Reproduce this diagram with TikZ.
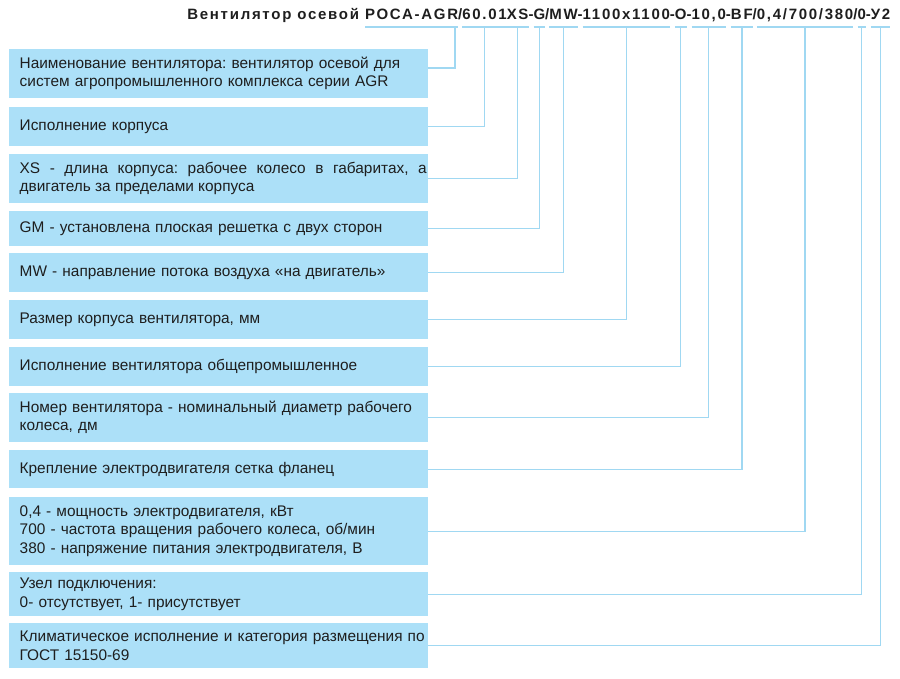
\documentclass[tikz,border=0pt]{standalone}
\usepackage{fontspec}
\setmainfont{Liberation Sans}
\newfontfamily\titlefont{Liberation Sans}[LetterSpace=11.5]
\definecolor{boxblue}{RGB}{172,224,248}
\definecolor{linkblue}{RGB}{160,216,242}
\definecolor{textgray}{RGB}{30,30,30}
\tikzset{
  descbox/.style={fill=boxblue, text=textgray, text width=416pt, inner xsep=1.5pt, inner ysep=0pt,
    align=left, anchor=north west, execute at begin node={\leftskip=9pt\frenchspacing},
    font=\fontsize{15.4}{18.2}\selectfont},
  codepart/.style={inner sep=0pt, outer sep=0pt, anchor=base west, text=textgray,
    font=\titlefont\bfseries\fontsize{15}{16}\selectfont},
  link/.style={draw=linkblue, line width=1.4pt},
}

\begin{document}
\begin{tikzpicture}[x=1pt, y=-1pt]
\useasboundingbox (0,0) rectangle (900,679);
%%% designation code %%%

      \node[codepart] (p1) at (365,20) {РОСА-AGR};
      \node[codepart, anchor=base east] (p0) at ([xshift=-6pt]p1.base west) {Вентилятор осевой};
      \node[codepart] (s1) at (p1.base east) {/};
      \node[codepart] (p2) at (s1.base east) {60.01};
      \node[codepart] (p3) at (p2.base east) {XS};
      \node[codepart] (s3) at (p3.base east) {-};
      \node[codepart] (p4) at (s3.base east) {G};
      \node[codepart] (s4) at (p4.base east) {/};
      \node[codepart] (p5) at (s4.base east) {MW};
      \node[codepart] (s5) at (p5.base east) {-};
      \node[codepart] (p6) at (s5.base east) {1100x1100};
      \node[codepart] (s6) at (p6.base east) {-};
      \node[codepart] (p7) at (s6.base east) {O};
      \node[codepart] (s7) at (p7.base east) {-};
      \node[codepart] (p8) at (s7.base east) {10,0};
      \node[codepart] (s8) at (p8.base east) {-};
      \node[codepart] (p9) at (s8.base east) {BF};
      \node[codepart] (s9) at (p9.base east) {/};
      \node[codepart] (p10) at (s9.base east) {0,4/700/380};
      \node[codepart] (s10) at (p10.base east) {/};
      \node[codepart] (p11) at (s10.base east) {0};
      \node[codepart] (s11) at (p11.base east) {-};
      \node[codepart] (p12) at (s11.base east) {У2};

%%% description boxes %%%

      \node[descbox, minimum height=49pt] (b1) at (9,49)
        {\mbox{Наименование вентилятора: вентилятор осевой для}\\систем агропромышленного комплекса серии AGR};
      \node[descbox, minimum height=39pt] (b2) at (9,107) {Исполнение корпуса};
      \node[descbox, minimum height=49pt, align=justify] (b3) at (9,154)
        {XS - длина корпуса: рабочее колесо в габаритах, а\linebreak двигатель за пределами корпуса};
      \node[descbox, minimum height=35pt] (b4) at (9,211) {GM - установлена плоская решетка с двух сторон};
      \node[descbox, minimum height=39pt] (b5) at (9,253) {MW - направление потока воздуха «на двигатель»};
      \node[descbox, minimum height=39pt] (b6) at (9,300) {Размер корпуса вентилятора, мм};
      \node[descbox, minimum height=39pt] (b7) at (9,347) {Исполнение вентилятора общепромышленное};
      \node[descbox, minimum height=49pt] (b8) at (9,393)
        {\mbox{Номер вентилятора - номинальный диаметр рабочего}\\колеса, дм};
      \node[descbox, minimum height=38pt] (b9) at (9,450) {Крепление электродвигателя сетка фланец};
      \node[descbox, minimum height=68pt] (b10) at (9,497)
        {0,4 - мощность электродвигателя, кВт\\700 - частота вращения рабочего колеса, об/мин\\380 - напряжение питания электродвигателя, В};
      \node[descbox, minimum height=44pt] (b11) at (9,572)
        {Узел подключения:\\0- отсутствует, 1- присутствует};
      \node[descbox, minimum height=45pt] (b12) at (9,623)
        {\mbox{Климатическое исполнение и категория размещения по}\\ГОСТ 15150-69};

%%% underlines and leaders %%%

      \foreach \i in {1,...,12}
        \draw[link] ([yshift=-7pt]p\i.base west) -- ([yshift=-7pt]p\i.base east);
      \draw[link] ([yshift=5.5pt]b1.east) -| ([xshift=-3pt, yshift=-7pt]p1.base east);
      \foreach \i in {2,...,12}
        \draw[link] (b\i.east) -| ([yshift=-7pt]p\i.base);

\end{tikzpicture}
\end{document}
